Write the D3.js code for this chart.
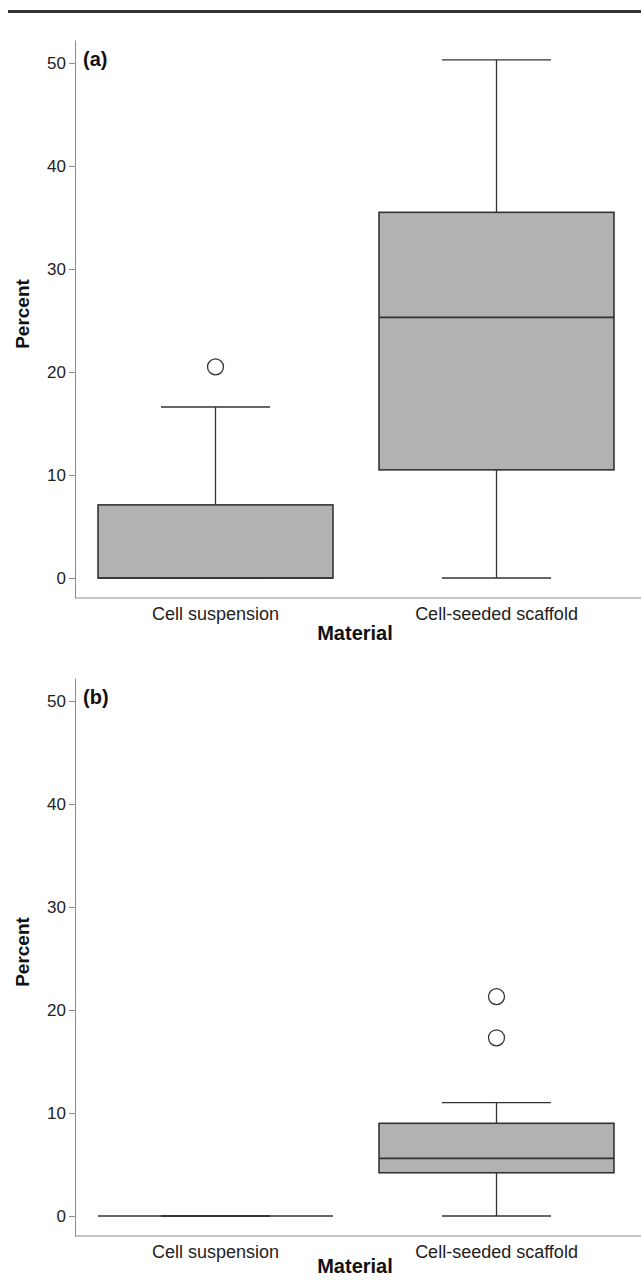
<!DOCTYPE html>
<html>
<head>
<meta charset="utf-8">
<script src="https://cdn.jsdelivr.net/npm/d3@7"></script>
<style>
  body { margin: 0; background: #fff; }
  svg { display: block; font-family: "Liberation Sans", Arial, sans-serif; }
</style>
</head>
<body>
<div id="chart"></div>
<script>
var categories = ["Cell suspension", "Cell-seeded scaffold"];
var yTicks = [0, 10, 20, 30, 40, 50];
var panelLabels = ["(a)", "(b)"];

// panel (a)
var aMin = [0, 0];
var aQ1 = [0, 10.5];
var aMedian = [0, 25.3];
var aQ3 = [7.1, 35.5];
var aMax = [16.6, 50.3];
var aOutliers = [[20.5], []];

// panel (b)
var bMin = [0, 0];
var bQ1 = [0, 4.2];
var bMedian = [0, 5.6];
var bQ3 = [0, 9.0];
var bMax = [0, 11.0];
var bOutliers = [[], [21.3, 17.3]];

function toBoxes(mins, q1s, meds, q3s, maxs, outs) {
  return categories.map(function (c, i) {
    return { cat: c, min: mins[i], q1: q1s[i], med: meds[i], q3: q3s[i], max: maxs[i], out: outs[i] };
  });
}

var panels = [
  { label: panelLabels[0], boxes: toBoxes(aMin, aQ1, aMedian, aQ3, aMax, aOutliers) },
  { label: panelLabels[1], boxes: toBoxes(bMin, bQ1, bMedian, bQ3, bMax, bOutliers) }
];

var W = 641, H = 1280;
var svg = d3.select("#chart").append("svg").attr("width", W).attr("height", H);

// rule across the top
svg.append("rect").attr("x", 8).attr("y", 10).attr("width", W - 8).attr("height", 3).attr("fill", "#333");

var axisX = 75, panelShift = 638;
var axisColor = "#8c8c8c";
var boxStroke = "#333";
var font = "Liberation Sans, Arial, sans-serif";

panels.forEach(function (p, pi) {
  var g = svg.append("g").attr("transform", "translate(0," + pi * panelShift + ")");

  var y = d3.scaleLinear().domain([-1.94, 52.23]).range([598, 40]);
  var x = d3.scaleBand().domain(categories).range([axisX, 637]).padding(0);
  var bw = x.bandwidth() * 0.836;
  var cw = x.bandwidth() * 0.388;
  var cx = function (d) { return x(d.cat) + x.bandwidth() / 2; };

  // y axis
  var yAx = g.append("g")
    .attr("transform", "translate(" + axisX + ",0)")
    .call(d3.axisLeft(y).tickValues(yTicks).tickSize(6).tickSizeOuter(0).tickPadding(3));
  yAx.selectAll("path, line").attr("stroke", axisColor);
  yAx.selectAll("text").attr("font-size", 17).attr("fill", "#222").attr("font-family", font);

  // x axis
  var xAx = g.append("g")
    .attr("transform", "translate(0,598)")
    .call(d3.axisBottom(x).tickSize(0).tickPadding(9));
  xAx.select(".domain").attr("d", "M" + axisX + ",0H" + W).attr("stroke", axisColor);
  xAx.selectAll("text").attr("font-size", 18).attr("fill", "#222").attr("font-family", font);

  // whiskers
  var bx = g.selectAll(".box").data(p.boxes).enter().append("g").attr("class", "box");
  bx.append("line")
    .attr("x1", cx).attr("x2", cx)
    .attr("y1", function (d) { return y(d.max); })
    .attr("y2", function (d) { return y(d.min); })
    .attr("stroke", boxStroke).attr("stroke-width", 1.3);
  ["min", "max"].forEach(function (k) {
    bx.append("line")
      .attr("x1", function (d) { return cx(d) - cw / 2; })
      .attr("x2", function (d) { return cx(d) + cw / 2; })
      .attr("y1", function (d) { return y(d[k]); })
      .attr("y2", function (d) { return y(d[k]); })
      .attr("stroke", boxStroke).attr("stroke-width", 1.3);
  });

  // boxes
  bx.append("rect")
    .attr("x", function (d) { return cx(d) - bw / 2; })
    .attr("width", bw)
    .attr("y", function (d) { return y(d.q3); })
    .attr("height", function (d) { return y(d.q1) - y(d.q3); })
    .attr("fill", "#b2b2b2")
    .attr("stroke", boxStroke).attr("stroke-width", 1.6);
  bx.append("line")
    .attr("x1", function (d) { return cx(d) - bw / 2; })
    .attr("x2", function (d) { return cx(d) + bw / 2; })
    .attr("y1", function (d) { return y(d.med); })
    .attr("y2", function (d) { return y(d.med); })
    .attr("stroke", boxStroke).attr("stroke-width", 1.6);

  // outliers
  bx.selectAll("circle").data(function (d) { return d.out.map(function (v) { return { cat: d.cat, v: v }; }); })
    .enter().append("circle")
    .attr("cx", cx)
    .attr("cy", function (d) { return y(d.v); })
    .attr("r", 8)
    .attr("fill", "#fff")
    .attr("stroke", boxStroke).attr("stroke-width", 1.3);

  // labels
  g.append("text").attr("x", 83).attr("y", 66).attr("font-size", 20).attr("font-weight", "bold").attr("fill", "#111").text(p.label);
  g.append("text")
    .attr("transform", "translate(29,314) rotate(-90)")
    .attr("text-anchor", "middle").attr("font-size", 19).attr("font-weight", "bold").attr("fill", "#111")
    .text("Percent");
  // bottom panel's title sits right at the page edge, nudge it up a little
  g.append("text").attr("x", 355).attr("y", 640 - pi * 5)
    .attr("text-anchor", "middle").attr("font-size", 20).attr("font-weight", "bold").attr("fill", "#111")
    .text("Material");
});
</script>
</body>
</html>
